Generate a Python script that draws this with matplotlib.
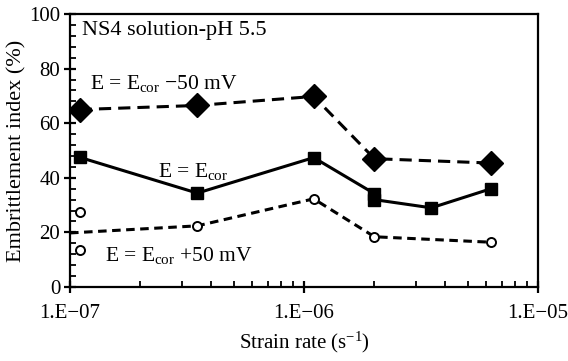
import matplotlib
matplotlib.use("Agg")
import matplotlib.pyplot as plt
from matplotlib.ticker import FixedLocator, LogLocator, MultipleLocator, NullFormatter

plt.rcParams['font.family'] = ['Liberation Serif', 'DejaVu Serif']
plt.rcParams['mathtext.fontset'] = 'custom'
plt.rcParams['mathtext.rm'] = 'Liberation Serif'
plt.rcParams['mathtext.it'] = 'Liberation Serif:italic'

# data
rate_neg = [1.1e-7, 3.5e-7, 1.1e-6, 2.0e-6, 6.3e-6]
ei_neg = [65, 66.5, 69.8, 47, 45.4]

rate_cor = [1.1e-7, 3.5e-7, 1.1e-6, 2.0e-6, 2.0e-6, 3.5e-6, 6.3e-6]
ei_cor = [47.5, 34.4, 47.4, 34.2, 32.0, 29.0, 36.0]

rate_pos_line = [1.0e-7, 3.5e-7, 1.1e-6, 2.0e-6, 6.3e-6]
ei_pos_line = [19.8, 22.4, 32.3, 18.4, 16.4]
rate_pos_pts = [1.1e-7, 1.1e-7, 3.5e-7, 1.1e-6, 2.0e-6, 6.3e-6]
ei_pos_pts = [27.4, 13.4, 22.4, 32.3, 18.4, 16.4]

xticks = [1e-7, 1e-6, 1e-5]
xticklabels = ['1.E\u221207', '1.E\u221206', '1.E\u221205']

fig = plt.figure(figsize=(5.68, 3.61), dpi=100)
ax = fig.add_axes([70/568, 1-287/361, (538-70)/568, (287-14)/361])

ax.plot(rate_neg, ei_neg, color='black', lw=2.2, dashes=(4, 2.3),
        marker='D', ms=12, mfc='black', mec='black', zorder=3)
ax.plot(rate_cor, ei_cor, color='black', lw=2.2, ls='-',
        marker='s', ms=8, mfc='black', mec='black', zorder=3)
ax.plot(rate_pos_line, ei_pos_line, color='black', lw=2.2, dashes=(2.8, 1.8), zorder=3)
ax.plot(rate_pos_pts, ei_pos_pts, ls='none', marker='o', ms=6.5, mfc='white',
        mec='black', mew=1.4, zorder=4)

ax.set_xscale('log')
ax.set_xlim(1e-7, 1e-5)
ax.set_ylim(0, 100)
ax.xaxis.set_major_locator(FixedLocator(xticks))
ax.set_xticklabels(xticklabels)
ax.xaxis.set_minor_locator(LogLocator(base=10, subs=range(2, 10)))
ax.xaxis.set_minor_formatter(NullFormatter())
ax.yaxis.set_major_locator(MultipleLocator(20))
ax.yaxis.set_minor_locator(MultipleLocator(4))

for s in ax.spines.values():
    s.set_linewidth(1.6)
ax.tick_params(which='major', axis='x', direction='inout', length=8, width=1.6,
               labelsize=15, pad=8, top=False)
ax.tick_params(which='major', axis='y', direction='inout', length=8, width=1.6,
               labelsize=15, pad=3, right=False)
ax.tick_params(which='minor', direction='in', length=4, width=1.3, top=False, right=False)

ax.set_xlabel('Strain rate (s$^{\u22121}$)', fontsize=15, labelpad=5)
ax.set_ylabel('Embrittlement index (%)', fontsize=16, labelpad=2)

def px(x, y):
    return fig.transFigure.inverted().transform((x, 361 - y))

for (x, y, s, fs) in [(82, 30, 'NS4 solution-pH 5.5', 16),
                      (90, 83, 'E = E$_{\\rm cor}$ \u221250 mV', 15.5),
                      (158, 172, 'E = E$_{\\rm cor}$', 15.5),
                      (105, 256, 'E = E$_{\\rm cor}$ +50 mV', 15.5)]:
    fx, fy = px(x, y)
    fig.text(fx, fy, s, fontsize=fs, va='center', ha='left')

fig.savefig('out.png', dpi=100)
